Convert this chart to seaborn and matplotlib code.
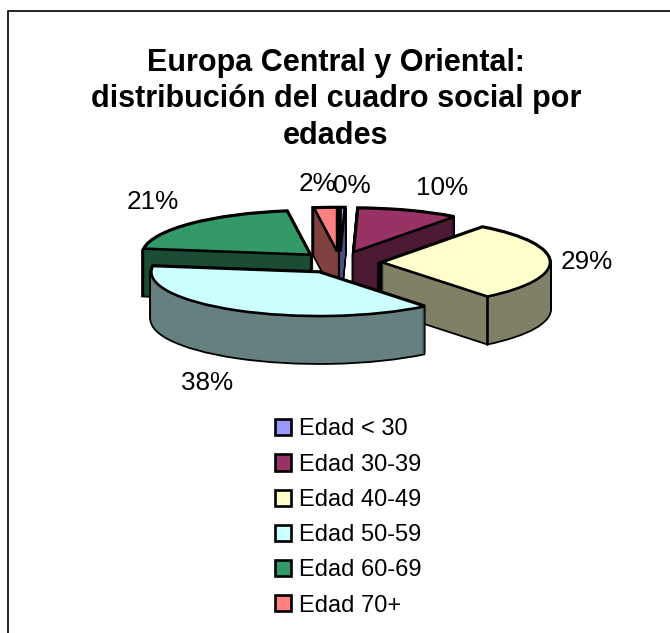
import math
import matplotlib
matplotlib.use("Agg")
import matplotlib.pyplot as plt
from matplotlib.lines import Line2D
from matplotlib.patches import Patch
import seaborn as sns

categories = ["Edad < 30", "Edad 30-39", "Edad 40-49", "Edad 50-59", "Edad 60-69", "Edad 70+"]
values = [0.4, 9.8, 29.0, 38.0, 20.6, 2.2]
top_colors = ["#9999FF", "#993366", "#FFFFCC", "#CCFFFF", "#339966", "#FF8080"]
side_colors = ["#4D4D80", "#4D1A33", "#808066", "#668080", "#1A4D33", "#804040"]
paint_order = [4, 5, 0, 1, 2, 3]
title_text = "Europa Central y Oriental:\ndistribución del cuadro social por\nedades"
label_px = [(352, 186), (442, 188), (587, 262), (207, 383), (153, 202), (318, 184)]

W, H = 670, 633
sns.set_theme(style="white")
plt.rcParams["font.family"] = ["Liberation Sans", "DejaVu Sans"]
top = sns.color_palette(top_colors)
side = sns.color_palette(side_colors)

fig = plt.figure(figsize=(W / 100, H / 100), dpi=100, facecolor="white")
RX, RY, DEPTH = 168.0, 44.0, 47
CX, CY = 340.0, 262.5
AW, AH = 2 * RX * 1.5, 2 * RY * 3
ax = fig.add_axes([(CX - AW / 2) / W, 1 - (CY + AH / 2) / H, AW / W, AH / H])
EXPLODE = [0.25] * len(values)
zrank = {s: i for i, s in enumerate(paint_order)}


def layer(offset, colors, edge, lw, sub):
    wedges, _ = ax.pie(values, explode=EXPLODE, colors=colors, startangle=90,
                       counterclock=False, center=(0, -offset), normalize=True,
                       wedgeprops=dict(edgecolor=edge, linewidth=lw))
    for i, w in enumerate(wedges):
        w.set_zorder(10 * zrank[i] + sub)
    return wedges


step = 1 / RY
for k in range(DEPTH + 1):
    layer(k * step, ["black"] * 6, "black", 2.6, 1)
for k in range(DEPTH + 1):
    layer(k * step, side, "none", 0, 2)
tops = layer(0, top, "black", 1.9, 4)

# interior vertical edge of the front corner of the 40-49 slice
total = sum(values)
acc = sum(values[:3]) / total * 2 * math.pi
mid = (sum(values[:2]) + values[2] / 2) / total * 2 * math.pi
x = EXPLODE[2] * math.sin(mid) + math.sin(acc)
y = EXPLODE[2] * math.cos(mid) + math.cos(acc)
ax.plot([x, x], [y, y - DEPTH * step], color="black", lw=1.9, zorder=10 * zrank[2] + 3)

ax.set_aspect("auto")
ax.set_xlim(-1.5, 1.5)
ax.set_ylim(-3, 3)
ax.axis("off")

for v, (px, py) in zip(values, label_px):
    fig.text(px / W, 1 - py / H, f"{v / total * 100:.0f}%", fontsize=18.8, color="black",
             ha="center", va="center")

fig.text(336 / W, 1 - 99.5 / H, title_text, fontsize=22, fontweight="bold", ha="center",
         va="center", linespacing=1.27, color="black")

handles = [Patch(facecolor=c, edgecolor="black", linewidth=1.9) for c in top]
fig.legend(handles, categories, loc="center left", bbox_to_anchor=(275 / W, 1 - 517.5 / H),
           frameon=False, fontsize=17, handlelength=0.68, handleheight=0.68,
           handletextpad=0.32, labelspacing=0.56, borderpad=0, borderaxespad=0,
           labelcolor="black")

fig.add_artist(Line2D([7.5 / W, 7.5 / W, 1], [0, 1 - 10.5 / H, 1 - 10.5 / H], color="#222222", lw=1.4))

fig.savefig("out.png", dpi=100, facecolor="white")
